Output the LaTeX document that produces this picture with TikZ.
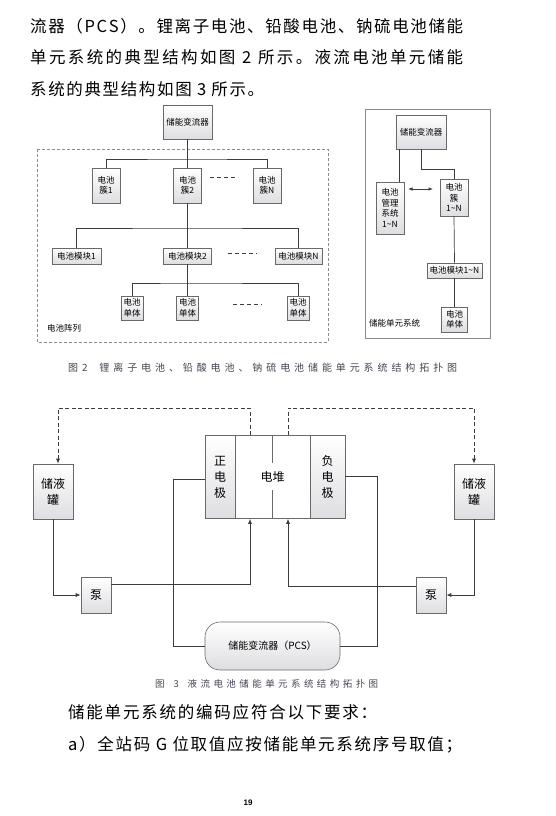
\documentclass[tikz,border=0pt]{standalone}
\usepackage{fontspec}
\newfontfamily\cjk{Noto Sans CJK SC}
\newfontfamily\pnum{Liberation Sans}
\usetikzlibrary{arrows.meta,calc}
\definecolor{linec}{RGB}{60,60,60}
\definecolor{boxc}{RGB}{105,105,105}
\definecolor{boxg}{RGB}{222,222,226}
\definecolor{framec}{RGB}{140,140,140}
\definecolor{capc}{RGB}{70,70,85}
\makeatletter
\def\spreadto#1#2{\hbox to #1{\spr@first#2\relax}}
\def\spr@first#1{#1\spr@rest}
\def\spr@rest#1{\ifx\relax#1\else\hfil#1\expandafter\spr@rest\fi}
\makeatother
\begin{document}
\begin{tikzpicture}[x=1pt,y=-1pt,
  tx/.style={inner sep=0pt, anchor=west, font=\cjk\fontsize{16.5}{20}\selectfont},
  capt/.style={inner sep=0pt, anchor=west, text=capc},
  bx/.style={draw=boxc, line width=0.6pt, top color=white, bottom color=boxg, align=center, inner sep=0pt},
  fb/.style={bx, font=\cjk\fontsize{8.5}{10.5}\selectfont},
  fc/.style={bx, font=\cjk\fontsize{12}{16}\selectfont},
  lbl/.style={inner sep=0pt, anchor=west, font=\cjk\fontsize{8.5}{10}\selectfont},
  ln/.style={draw=linec, line width=0.7pt},
  arr/.style={ln, -{Latex[length=5pt,width=4pt]}},
  dsh/.style={ln, dash pattern=on 4pt off 2.5pt, -{Latex[length=5pt,width=4pt]}},
  ell/.style={draw=linec, line width=0.7pt, dash pattern=on 4pt off 3pt}
]
\useasboundingbox (0,0) rectangle (555,816);

% ---------- top text ----------
\node[tx] (t1) at (30,26) {\spreadto{433pt}{流器（PCS）。锂离子电池、铅酸电池、钠硫电池储能}};
\node[tx] (t2) at (30,57.5) {\spreadto{433pt}{单元系统的典型结构如图{\kern2pt}2{\kern2pt}所示。液流电池单元储能}};
\node[tx] (t3) at (30,89) {\spreadto{234pt}{系统的典型结构如图{\kern2pt}3{\kern2pt}所示。}};

% ---------- Figure 2 left ----------
\draw[framec, line width=0.7pt, dash pattern=on 3pt off 2pt] (37,149) rectangle (328,342);
\node[fb, minimum width=49pt, minimum height=34pt] (pcsA) at (187.5,122) {储能变流器};
\node[fb, minimum width=28pt, minimum height=35pt] (c1) at (106,185.5) {电池\\簇1};
\node[fb, minimum width=28pt, minimum height=35pt] (c2) at (187.5,185.5) {电池\\簇2};
\node[fb, minimum width=28pt, minimum height=35pt] (cN) at (267,185.5) {电池\\簇N};
\coordinate (b1) at (187.5,159);
\draw[ln] (pcsA.south) -- (c2.north);
\draw[ln] (c1.north) |- (b1) -| (cN.north);
\coordinate (e1a) at (210,177); \coordinate (e1b) at (238,177);
\draw[ell] (e1a) -- (e1b);

\node[fb, minimum width=49pt, minimum height=16pt] (m1) at (76.5,256) {电池模块1};
\node[fb, minimum width=48pt, minimum height=16pt] (m2) at (187.5,256) {电池模块2};
\node[fb, minimum width=47pt, minimum height=16pt] (mN) at (298.5,256) {电池模块N};
\coordinate (b2) at (187.5,228);
\draw[ln] (c2.south) -- (m2.north);
\draw[ln] (m1.north) |- (b2) -| (mN.north);
\coordinate (e2a) at (228,253); \coordinate (e2b) at (257,253);
\draw[ell] (e2a) -- (e2b);

\node[fb, minimum width=22pt, minimum height=24pt] (s1) at (132,308) {电池\\单体};
\node[fb, minimum width=22pt, minimum height=24pt] (s2) at (187.5,308) {电池\\单体};
\node[fb, minimum width=22pt, minimum height=24pt] (s3) at (298,308) {电池\\单体};
\coordinate (b3) at (187.5,283);
\draw[ln] (m2.south) -- (s2.north);
\draw[ln] (s1.north) |- (b3) -| (s3.north);
\coordinate (e3a) at (233,304); \coordinate (e3b) at (262,304);
\draw[ell] (e3a) -- (e3b);
\node[lbl] (arrL) at (47,328) {电池阵列};

% ---------- Figure 2 right ----------
\draw[framec, line width=0.7pt] (365,109) rectangle (490,338);
\node[fb, minimum width=50pt, minimum height=34pt] (pcsB) at (421,132) {储能变流器};
\node[fb, minimum width=28pt, minimum height=52pt] (bms) at (390,208) {电池\\管理\\系统\\1\textasciitilde N};
\node[fb, minimum width=28pt, minimum height=37pt] (cl) at (454,197.5) {电池\\簇\\1\textasciitilde N};
\node[fb, minimum width=55pt, minimum height=15pt] (modB) at (454.5,270.5) {电池模块1\textasciitilde N};
\node[fb, minimum width=26pt, minimum height=25pt] (cellB) at (454.5,319.5) {电池\\单体};
\draw[ln] ([xshift=4pt]pcsB.south west) -- ([xshift=4pt]pcsB.south west |- bms.north);
\coordinate (kB) at (454,169);
\draw[ln] (pcsB.south) |- (kB) -- (cl.north);
\draw[ln] (cl.south) -- (modB.north);
\draw[ln] (modB.south) -- (cellB.north);
\coordinate (aL) at (408,189); \coordinate (aR) at (433,189);
\draw[draw=linec, line width=0.7pt, {Latex[length=4.5pt,width=3.5pt]}-{Latex[length=4.5pt,width=3.5pt]}] (aL) -- (aR);
\node[lbl] (unitL) at (369,323) {储能单元系统};

% caption fig 2
\node[capt, font=\cjk\fontsize{10}{12}\selectfont] (cap2) at (68,368) {\spreadto{389pt}{图2{\kern4pt}锂离子电池、铅酸电池、钠硫电池储能单元系统结构拓扑图}};

% ---------- Figure 3 ----------
\node[fc, minimum width=40pt, minimum height=55pt] (tankL) at (53,491.5) {储液\\罐};
\node[fc, minimum width=40pt, minimum height=55pt] (tankR) at (474,491.5) {储液\\罐};
\node[fc, minimum width=30pt, minimum height=83pt] (pos) at (220,477) {正\\电\\极};
\node[draw=boxc, line width=0.6pt, fill=white, inner sep=0pt, font=\cjk\fontsize{12}{16}\selectfont, minimum width=75pt, minimum height=83pt] (mid) at (272.5,477) {电堆};
\node[fc, minimum width=35pt, minimum height=83pt] (neg) at (327.5,477) {负\\电\\极};
\draw[boxc, line width=0.6pt] (mid.north) -- ++(0,27.5);
\draw[boxc, line width=0.6pt] (mid.south) -- ++(0,-28.5);
\node[fc, minimum width=30pt, minimum height=36pt] (pumpL) at (96,595) {泵};
\node[fc, minimum width=30pt, minimum height=36pt] (pumpR) at (431,595) {泵};
\node[bx, rounded corners=15pt, font=\cjk\fontsize{10}{12}\selectfont, minimum width=135pt, minimum height=48pt] (pcsC) at (272.5,646) {储能变流器（PCS）};

\coordinate (tl) at (58,408);
\coordinate (tr) at (474,408);
\draw[dsh] ([xshift=-22.5pt]mid.north) |- (tl) -- ([xshift=5pt]tankL.north);
\draw[dsh] ([xshift=15.5pt]mid.north) |- (tr) -- (tankR.north);
\draw[arr] (tankL.south) |- (pumpL.west);
\draw[arr] (tankR.south) |- (pumpR.east);
\draw[arr] ([yshift=11pt]pumpL.east) -| ([xshift=-22.5pt]mid.south);
\draw[arr] ([yshift=9pt]pumpR.west) -| ([xshift=15.5pt]mid.south);
\coordinate (plc) at (173,646);
\coordinate (prc) at (377,646);
\draw[ln] ([yshift=-2pt]pos.west) -| (plc) -- (pcsC.west);
\draw[ln] ([yshift=1pt]neg.east) -| (prc) -- (pcsC.east);

% caption fig 3
\node[capt, font=\cjk\fontsize{9.5}{11}\selectfont] (cap3) at (155,684) {\spreadto{223pt}{图{\kern2pt}3{\kern2pt}液流电池储能单元系统结构拓扑图}};

% ---------- bottom text ----------
\node[tx] (t4) at (68,712) {\spreadto{309pt}{储能单元系统的编码应符合以下要求：}};
\node[tx] (t5) at (68,745) {\spreadto{394pt}{a）全站码{\kern2pt}G{\kern2pt}位取值应按储能单元系统序号取值；}};
\node[inner sep=0pt, font=\pnum\bfseries\fontsize{8}{9}\selectfont] (pg) at (248,803) {19};
\end{tikzpicture}
\end{document}
